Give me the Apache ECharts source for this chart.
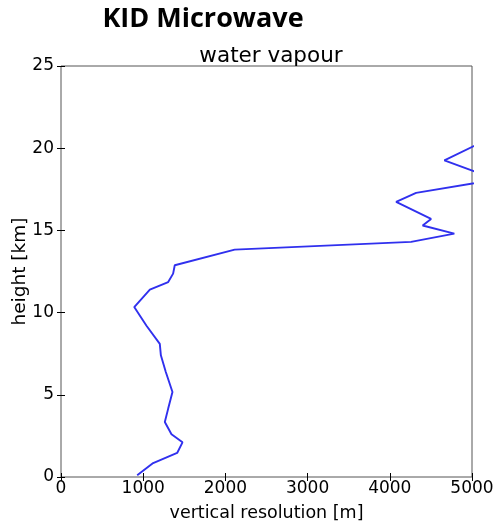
<!DOCTYPE html>
<html><head><meta charset="utf-8">
<script src="https://cdn.jsdelivr.net/npm/echarts@6/dist/echarts.min.js"></script>
<style>html,body{margin:0;padding:0;background:#fff}#c{width:497px;height:521px}</style>
</head><body><div id="c"></div>
<script>
const resolution = [927,1121,1413,1478,1344,1263,1304,1356,1275,1215,1202,1040,891,1081,1304,1364,1384,2113,4259,4785,4400,4502,4077,4320,5300,4664,5300];
const height =     [0.1,0.85,1.46,2.11,2.6,3.35,4.16,5.17,6.39,7.4,8.1,9.2,10.34,11.4,11.86,12.37,12.88,13.83,14.3,14.8,15.3,15.7,16.73,17.28,18.1,19.26,20.8];
const xTicks = [0,1000,2000,3000,4000,5000];
const yTicks = [0,5,10,15,20,25];

const chart = echarts.init(document.getElementById('c'));
const F = 'DejaVu Sans';
const tickStyle = {show:true, inside:true, length:4, lineStyle:{color:'#000', width:1}};
chart.setOption({
  animation:false,
  title:[
    {text:'KID Microwave', left:198, top:1, textAlign:'center', textStyle:{fontFamily:'Open Sans', fontWeight:'bold', fontSize:27, color:'#000'}},
    {text:'water vapour', left:266, top:40, textAlign:'center', textStyle:{fontFamily:F, fontWeight:'normal', fontSize:21.5, color:'#000'}}
  ],
  grid:{left:61, top:66, width:411, height:411, containLabel:false, outerBoundsMode:'none', show:true, borderColor:'#555', borderWidth:1, backgroundColor:'transparent'},
  xAxis:[
    {type:'value', min:0, max:5000, interval:1000, position:'bottom',
     name:'vertical resolution [m]', nameLocation:'middle', nameGap:27, nameMoveOverlap:false,
     nameTextStyle:{fontFamily:F, fontSize:17.5, color:'#000'},
     axisLine:{show:false}, axisTick:tickStyle, splitLine:{show:false},
     axisLabel:{fontFamily:F, fontSize:17, color:'#000', margin:3, formatter:v=>xTicks.includes(v)?String(v):''}},
    {type:'value', min:0, max:5000, interval:1000, position:'top',
     axisLine:{show:false}, axisTick:tickStyle, splitLine:{show:false}, axisLabel:{show:false}}
  ],
  yAxis:[
    {type:'value', min:0, max:25, interval:5, position:'left',
     name:'height [km]', nameLocation:'middle', nameGap:31, nameMoveOverlap:false,
     nameTextStyle:{fontFamily:F, fontSize:18.5, color:'#000'},
     axisLine:{show:false}, axisTick:tickStyle, splitLine:{show:false},
     axisLabel:{fontFamily:F, fontSize:17, color:'#000', margin:7, formatter:v=>yTicks.includes(v)?String(v):''}},
    {type:'value', min:0, max:25, interval:5, position:'right',
     axisLine:{show:false}, axisTick:tickStyle, splitLine:{show:false}, axisLabel:{show:false}}
  ],
  series:[{
    type:'line', xAxisIndex:0, yAxisIndex:0, clip:true, showSymbol:false, symbol:'none',
    data: resolution.map((r,i)=>[r,height[i]]),
    lineStyle:{color:'#3030ee', width:1.9}
  }]
});
</script></body></html>
